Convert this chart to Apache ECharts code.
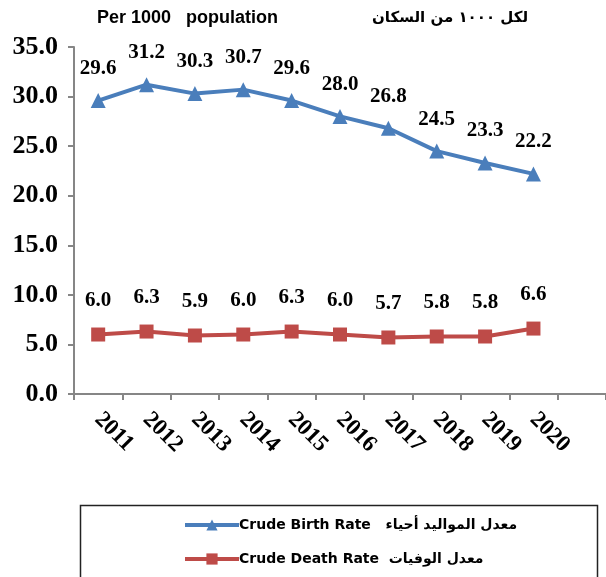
<!DOCTYPE html>
<html>
<head>
<meta charset="utf-8">
<script src="https://cdn.jsdelivr.net/npm/echarts@6/dist/echarts.min.js"></script>
<style>
  html, body { margin: 0; padding: 0; background: #fff; }
  #chart { width: 606px; height: 577px; }
</style>
</head>
<body>
<div id="chart"></div>
<script>
// years and rates, per 1000 population
var years = ['2011', '2012', '2013', '2014', '2015', '2016', '2017', '2018', '2019', '2020'];
var birthRate = [29.6, 31.2, 30.3, 30.7, 29.6, 28.0, 26.8, 24.5, 23.3, 22.2];
var deathRate = [6.0, 6.3, 5.9, 6.0, 6.3, 6.0, 5.7, 5.8, 5.8, 6.6];
var birthName = 'Crude Birth Rate   معدل المواليد أحياء';
var deathName = 'Crude Death Rate  معدل الوفيات';

var chart = echarts.init(document.getElementById('chart'));

var serifBold = { fontFamily: 'Liberation Serif', fontWeight: 'bold', color: '#000' };

var option = {
  animation: false,
  backgroundColor: '#fff',
  graphic: [
    { type: 'text', left: 97, top: 9, style: { text: 'Per 1000   population', font: 'bold 18px "Liberation Sans"', fill: '#000' } },
    { type: 'text', left: 372, top: 11, style: { text: 'لكل ١٠٠٠ من السكان', font: 'bold 15px "DejaVu Sans"', fill: '#000' } },
    { type: 'rect', shape: { x: 80.5, y: 505.5, width: 517, height: 80 }, style: { fill: 'none', stroke: '#222', lineWidth: 1.5 } }
  ],
  legend: {
    orient: 'vertical',
    left: 178,
    top: 513,
    itemGap: 20,
    itemWidth: 54,
    itemHeight: 14,
    lineStyle: { width: 4 },
    textStyle: { fontFamily: 'DejaVu Sans', fontWeight: 'bold', fontSize: 14, color: '#000', padding: [0, 0, 0, -5] },
    data: [birthName, deathName]
  },
  grid: { left: 74, top: 47, right: 0, height: 347, containLabel: false },
  xAxis: {
    type: 'category',
    boundaryGap: true,
    data: years.concat(['']),
    axisLine: { lineStyle: { color: '#868686', width: 2 } },
    axisTick: { show: true, length: 6, lineStyle: { color: '#868686', width: 2 } },
    axisLabel: Object.assign({ rotate: -45, fontSize: 23, margin: 22, interval: 0 }, serifBold)
  },
  yAxis: {
    type: 'value',
    min: 0,
    max: 35,
    interval: 5,
    axisLine: { show: true, lineStyle: { color: '#868686', width: 2 } },
    axisTick: { show: true, length: 6, lineStyle: { color: '#868686', width: 2 } },
    splitLine: { show: false },
    axisLabel: Object.assign({ fontSize: 26, margin: 16, formatter: function (v) { return v.toFixed(1); } }, serifBold)
  },
  series: [
    {
      name: birthName,
      type: 'line',
      data: birthRate,
      symbol: 'triangle',
      symbolSize: 15,
      lineStyle: { color: '#4A7EBB', width: 4 },
      itemStyle: { color: '#4A7EBB' },
      label: Object.assign({ show: true, position: 'top', distance: 14, fontSize: 21, formatter: function (p) { return p.value.toFixed(1); } }, serifBold)
    },
    {
      name: deathName,
      type: 'line',
      data: deathRate,
      symbol: 'rect',
      symbolSize: 14,
      lineStyle: { color: '#BE4B48', width: 4 },
      itemStyle: { color: '#BE4B48' },
      label: Object.assign({ show: true, position: 'top', distance: 16, fontSize: 21, formatter: function (p) { return p.value.toFixed(1); } }, serifBold)
    }
  ]
};

chart.setOption(option);
</script>
</body>
</html>
